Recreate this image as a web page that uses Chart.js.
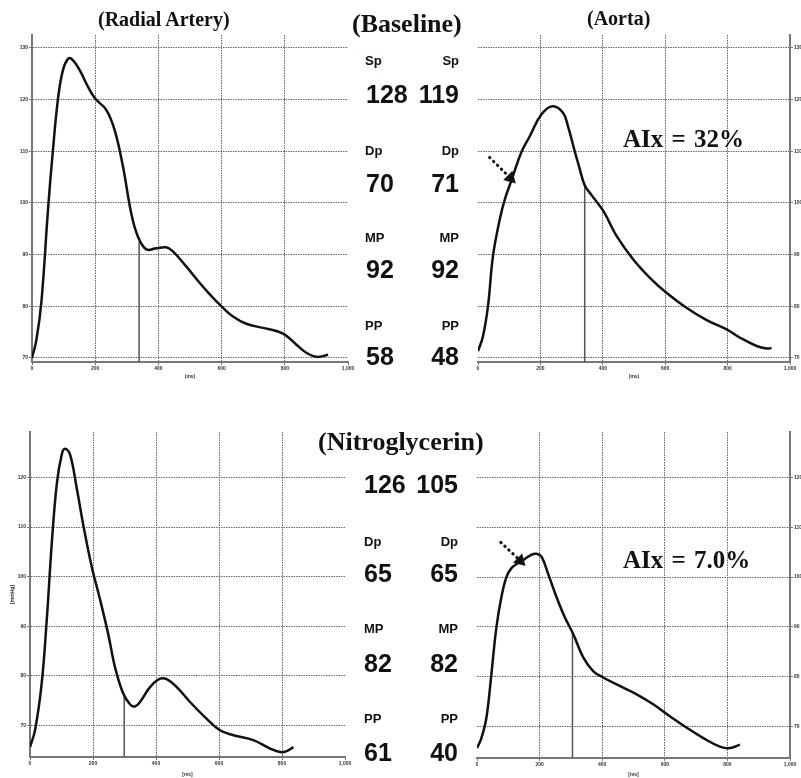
<!DOCTYPE html>
<html>
<head>
<meta charset="utf-8">
<script src="https://cdn.jsdelivr.net/npm/chart.js@4.4.0/dist/chart.umd.min.js"></script>
<style>
  body { margin: 0; background: #fff; }
  #wrap { position: relative; width: 801px; height: 778px; overflow: hidden; background: #fff; }
  #wrap canvas { position: absolute; }
  .t { position: absolute; white-space: nowrap; line-height: 1; color: #111; }
  .serif { font-family: "Liberation Serif", "Times New Roman", serif; font-weight: bold; }
  .lab { font-family: "Liberation Sans", Arial, sans-serif; font-weight: bold; font-size: 13px; }
  .num { font-family: "Liberation Sans", Arial, sans-serif; font-weight: bold; font-size: 25px; }
  .r { text-align: right; }
</style>
</head>
<body>
<div id="wrap">
  <canvas id="radialBase" width="360" height="380" style="left:0;top:0"></canvas>
  <canvas id="aortaBase" width="361" height="380" style="left:440px;top:0"></canvas>
  <canvas id="radialNtg" width="360" height="378" style="left:0;top:400px"></canvas>
  <canvas id="aortaNtg" width="361" height="378" style="left:440px;top:400px"></canvas>

  <div class="t serif" style="left:98px;top:9px;font-size:20px">(Radial Artery)</div>
  <div class="t serif" style="left:352px;top:11px;font-size:26px">(Baseline)</div>
  <div class="t serif" style="left:587px;top:8px;font-size:20px">(Aorta)</div>
  <div class="t serif" style="left:318px;top:429px;font-size:26px">(Nitroglycerin)</div>
  <div class="t serif" style="left:623px;top:126px;font-size:25px;word-spacing:2px">AIx = 32%</div>
  <div class="t serif" style="left:623px;top:547px;font-size:25px;word-spacing:2px">AIx = 7.0%</div>

  <!-- baseline pressures -->
  <div class="t lab" style="left:365px;top:54px">Sp</div>
  <div class="t lab r" style="left:400px;width:59px;top:54px">Sp</div>
  <div class="t num" style="left:366px;top:82px">128</div>
  <div class="t num r" style="left:400px;width:59px;top:82px">119</div>
  <div class="t lab" style="left:365px;top:144px">Dp</div>
  <div class="t lab r" style="left:400px;width:59px;top:144px">Dp</div>
  <div class="t num" style="left:366px;top:171px">70</div>
  <div class="t num r" style="left:400px;width:59px;top:171px">71</div>
  <div class="t lab" style="left:365px;top:231px">MP</div>
  <div class="t lab r" style="left:400px;width:59px;top:231px">MP</div>
  <div class="t num" style="left:366px;top:257px">92</div>
  <div class="t num r" style="left:400px;width:59px;top:257px">92</div>
  <div class="t lab" style="left:365px;top:319px">PP</div>
  <div class="t lab r" style="left:400px;width:59px;top:319px">PP</div>
  <div class="t num" style="left:366px;top:344px">58</div>
  <div class="t num r" style="left:400px;width:59px;top:344px">48</div>

  <!-- nitroglycerin pressures -->
  <div class="t num" style="left:364px;top:472px">126</div>
  <div class="t num r" style="left:400px;width:58px;top:472px">105</div>
  <div class="t lab" style="left:364px;top:535px">Dp</div>
  <div class="t lab r" style="left:400px;width:58px;top:535px">Dp</div>
  <div class="t num" style="left:364px;top:561px">65</div>
  <div class="t num r" style="left:400px;width:58px;top:561px">65</div>
  <div class="t lab" style="left:364px;top:622px">MP</div>
  <div class="t lab r" style="left:400px;width:58px;top:622px">MP</div>
  <div class="t num" style="left:364px;top:651px">82</div>
  <div class="t num r" style="left:400px;width:58px;top:651px">82</div>
  <div class="t lab" style="left:364px;top:712px">PP</div>
  <div class="t lab r" style="left:400px;width:58px;top:712px">PP</div>
  <div class="t num" style="left:364px;top:740px">61</div>
  <div class="t num r" style="left:400px;width:58px;top:740px">40</div>
</div>

<script>
// tick values
const xTicks = [0, 200, 400, 600, 800, 1000];
const yTicksTop = [70, 80, 90, 100, 110, 120, 130];
const yTicksBottom = [70, 80, 90, 100, 110, 120];

// radial artery, baseline (ms / mmHg)
const radialBaseT = [0, 14, 30, 51, 66, 82, 98, 116, 130, 151, 177, 200, 235, 262, 288, 314, 335, 362, 393, 425, 446, 488, 531, 573, 599, 636, 678, 731, 773, 800, 836, 868, 900, 937];
const radialBaseP = [70, 73.5, 81, 99, 110, 120, 125.7, 128, 127.6, 125.7, 122.5, 120.2, 118, 114, 107, 98, 93.5, 91, 91.2, 91.4, 90.6, 87.7, 84.5, 81.6, 80, 78, 76.6, 75.8, 75.2, 74.5, 72.6, 71, 70.2, 70.6];

// aorta, baseline
const aortaBaseT = [0, 16, 32, 48, 70, 86, 107, 139, 166, 203, 239, 273, 289, 310, 326, 342, 364, 403, 444, 497, 551, 604, 668, 733, 797, 840, 893, 925, 941];
const aortaBaseP = [71.3, 74.2, 80, 89.7, 96.9, 100.7, 104.3, 109.8, 112.9, 117.1, 118.7, 117.4, 114.7, 110, 106.6, 103.4, 101.5, 98.3, 93.6, 89.1, 85.5, 82.6, 79.7, 77.3, 75.5, 73.9, 72.3, 71.8, 71.9];

// radial artery, nitroglycerin
const radialNtgT = [0, 16, 37, 53, 69, 85, 101, 111, 127, 148, 169, 196, 222, 248, 270, 296, 318, 333, 349, 381, 413, 434, 466, 508, 561, 603, 646, 709, 762, 794, 815, 836];
const radialNtgP = [65.6, 69, 78.4, 91.1, 106.6, 118.7, 124.7, 125.8, 124.7, 118, 110.5, 102, 95.5, 88.5, 81.7, 76.4, 74.2, 73.8, 74.7, 77.7, 79.4, 79.3, 77.7, 74.7, 71.3, 69, 68, 67, 65.3, 64.6, 64.8, 65.6];

// aorta, nitroglycerin
const aortaNtgT = [0, 14, 30, 46, 62, 78, 94, 110, 131, 152, 174, 190, 206, 227, 254, 280, 307, 339, 371, 403, 456, 510, 563, 616, 670, 723, 776, 808, 840];
const aortaNtgP = [65.6, 67.6, 71.7, 80.5, 89.9, 96, 100, 101.8, 102.8, 103.6, 104.5, 104.7, 104.1, 100.7, 96, 92, 88.6, 83.9, 81.1, 79.8, 78.1, 76.4, 74.4, 72, 69.7, 67.6, 65.9, 65.6, 66.3];

// vertical marker [time, pressure where it meets the curve]
const radialBaseMark = [339, 92.5];
const aortaBaseMark = [342, 103.4];
const radialNtgMark = [299, 76];
const aortaNtgMark = [305, 88.8];

// dotted arrows [t0, p0, t1, p1]
const aortaBaseArrow = [37, 108.8, 104, 104.8];
const aortaNtgArrow = [76, 107, 138, 103.3];

function pts(ts, ps) {
    return ts.map((t, i) => ({ x: t, y: ps[i] }));
}

function makeWave(id, o) {
    const datasets = [
        {
            data: pts(o.t, o.p),
            borderColor: '#111',
            borderWidth: 2.5,
            pointRadius: 0,
            tension: 0.4
        },
        {
            data: [{ x: o.mark[0], y: o.mark[1] }, { x: o.mark[0], y: o.yMin }],
            borderColor: '#555',
            borderWidth: 1.5,
            pointRadius: 0
        }
    ];
    if (o.arrow) {
        datasets.push({
            data: [{ x: o.arrow[0], y: o.arrow[1] }, { x: o.arrow[2], y: o.arrow[3] }],
            borderColor: '#111',
            borderWidth: 3,
            borderDash: [0.5, 5],
            borderCapStyle: 'round',
            pointRadius: [0, 4.5],
            pointStyle: 'triangle',
            pointRotation: [0, 135],
            pointBackgroundColor: '#111',
            pointBorderColor: '#111'
        });
    }

    const tickFont = { size: 5, weight: 'bold', family: 'Liberation Sans' };

    new Chart(document.getElementById(id), {
        type: 'line',
        data: { datasets: datasets },
        options: {
            responsive: false,
            animation: false,
            events: [],
            layout: { padding: o.padding },
            plugins: { legend: { display: false }, tooltip: { enabled: false } },
            scales: {
                x: {
                    type: 'linear',
                    min: 0,
                    max: 1000,
                    afterBuildTicks: s => { s.ticks = xTicks.map(v => ({ value: v })); },
                    afterFit: s => { s.height = o.xH; },
                    grid: {
                        color: c => (c.tick && (c.tick.value === 0 || c.tick.value === 1000)) ? 'rgba(0,0,0,0)' : '#666',
                        tickColor: '#777',
                        tickLength: 3,
                        lineWidth: 1
                    },
                    border: { color: '#777', width: 2, dash: [1.5, 1] },
                    ticks: { font: tickFont, color: '#333', padding: 1, maxRotation: 0 },
                    title: { display: true, text: o.xTitle, font: tickFont, color: '#333', padding: 0 }
                },
                y: {
                    position: o.yPos,
                    min: o.yMin,
                    max: o.yMax,
                    afterBuildTicks: s => { s.ticks = o.yTicks.map(v => ({ value: v })); },
                    afterFit: s => { s.width = o.yW; },
                    grid: { color: '#666', tickColor: '#777', tickLength: 3, lineWidth: 1 },
                    border: { color: '#777', width: 2, dash: [1.5, 1] },
                    ticks: { font: tickFont, color: '#333', padding: 1 },
                    title: { display: !!o.yTitle, text: o.yTitle || '', font: tickFont, color: '#333', padding: { top: 10, bottom: 0 } }
                }
            }
        }
    });
}

makeWave('radialBase', {
    t: radialBaseT, p: radialBaseP, mark: radialBaseMark,
    yMin: 69.2, yMax: 132.5, yTicks: yTicksTop, yPos: 'left',
    padding: { left: 0, top: 35, right: 12, bottom: 0 }, yW: 32, xH: 18, xTitle: '(ms)'
});

makeWave('aortaBase', {
    t: aortaBaseT, p: aortaBaseP, mark: aortaBaseMark, arrow: aortaBaseArrow,
    yMin: 69.2, yMax: 132.5, yTicks: yTicksTop, yPos: 'right',
    padding: { left: 38, top: 35, right: 0, bottom: 0 }, yW: 11, xH: 18, xTitle: '(ms)'
});

makeWave('radialNtg', {
    t: radialNtgT, p: radialNtgP, mark: radialNtgMark,
    yMin: 63.6, yMax: 129.2, yTicks: yTicksBottom, yPos: 'left',
    padding: { left: 0, top: 32, right: 15, bottom: 0 }, yW: 30, xH: 21, xTitle: '[ms]', yTitle: '[mmHg]'
});

makeWave('aortaNtg', {
    t: aortaNtgT, p: aortaNtgP, mark: aortaNtgMark, arrow: aortaNtgArrow,
    yMin: 63.6, yMax: 129.2, yTicks: yTicksBottom, yPos: 'right',
    padding: { left: 37, top: 32, right: 0, bottom: 0 }, yW: 11, xH: 20, xTitle: '[ms]'
});
</script>
</body>
</html>
